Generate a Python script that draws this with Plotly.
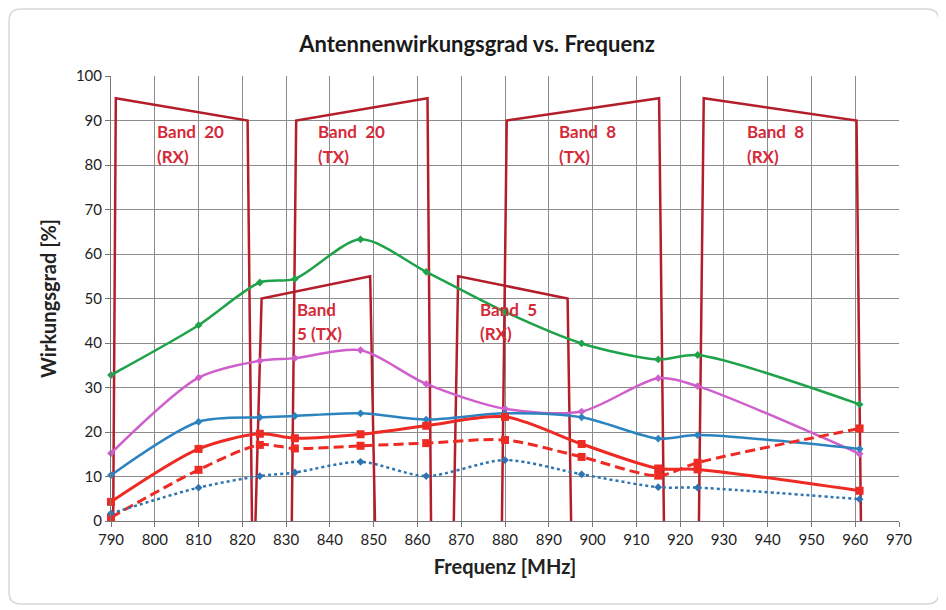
import plotly.graph_objects as go

# ---------------- data ----------------
freq = [790, 810, 824, 832, 847, 862, 880, 897.5, 915, 924, 961]
eff_green = [32.8, 44.0, 53.6, 54.4, 63.3, 56.0, 47.0, 39.9, 36.3, 37.3, 26.2]
eff_pink = [15.2, 32.2, 36.0, 36.6, 38.4, 30.8, 25.2, 24.6, 32.1, 30.3, 15.1]
eff_blue = [10.3, 22.3, 23.3, 23.6, 24.2, 22.8, 24.2, 23.3, 18.5, 19.3, 16.2]
eff_red = [4.3, 16.2, 19.6, 18.6, 19.5, 21.4, 23.4, 17.3, 11.8, 11.6, 6.8]
eff_red_dash = [0.8, 11.5, 17.1, 16.3, 16.9, 17.5, 18.2, 14.4, 10.2, 13.1, 20.8]
eff_blue_dot = [1.7, 7.5, 10.1, 10.9, 13.3, 10.1, 13.7, 10.5, 7.6, 7.5, 4.9]

band20rx_x = [790.5, 791.1, 821.2, 822.2]
band20rx_y = [0, 95, 90, 0]
band20tx_x = [831.3, 832.3, 862.3, 863.1]
band20tx_y = [0, 90, 95, 0]
band5tx_x = [823.0, 824.4, 849.2, 850.3]
band5tx_y = [0, 50, 55, 0]
band5rx_x = [868.3, 869.3, 894.3, 895.1]
band5rx_y = [0, 55, 50, 0]
band8tx_x = [879.3, 880.4, 915.2, 916.3]
band8tx_y = [0, 90, 95, 0]
band8rx_x = [924.3, 925.4, 960.3, 961.3]
band8rx_y = [0, 95, 90, 0]

band_labels = [
    ("Band&nbsp;&nbsp;20", "(RX)", 800.0, 87.6, 82.0),
    ("Band&nbsp;&nbsp;20", "(TX)", 836.8, 87.6, 82.0),
    ("Band&nbsp;&nbsp;8", "(TX)", 891.9, 87.6, 82.0),
    ("Band&nbsp;&nbsp;8", "(RX)", 934.8, 87.6, 82.0),
    ("Band", "5 (TX)", 832.0, 47.6, 42.2),
    ("Band&nbsp;&nbsp;5", "(RX)", 873.8, 47.6, 42.2),
]

FONT = "Lato, 'Open Sans', sans-serif"
BAND_COLOR = "#B41E2B"
LABEL_COLOR = "#D42A3A"

fig = go.Figure()

for bx, by in [(band20rx_x, band20rx_y), (band20tx_x, band20tx_y), (band5tx_x, band5tx_y),
               (band5rx_x, band5rx_y), (band8tx_x, band8tx_y), (band8rx_x, band8rx_y)]:
    fig.add_trace(go.Scatter(x=bx, y=by, mode="lines", line=dict(color=BAND_COLOR, width=2.5),
                             hoverinfo="skip", showlegend=False, cliponaxis=False))

series = [
    (eff_green, "#1FA24A", "solid", "diamond", 6, 2.5),
    (eff_pink, "#CF5FCB", "solid", "diamond", 6, 2.5),
    (eff_blue, "#2B83C0", "solid", "diamond", 6, 2.5),
    (eff_red, "#EE2A24", "solid", "square", 8, 3),
    (eff_red_dash, "#EE2A24", "10px,5px", "square", 8, 3),
    (eff_blue_dot, "#2E74B0", "dot", "diamond", 6, 2.5),
]
for ys, col, dash, sym, msz, lw in series:
    fig.add_trace(go.Scatter(
        x=freq, y=ys, mode="lines+markers",
        line=dict(color=col, width=lw, dash=dash, shape="spline", smoothing=0.8),
        marker=dict(color=col, symbol=sym, size=msz),
        showlegend=False, cliponaxis=False))

for l1, l2, x, y1, y2 in band_labels:
    for txt, yy in [(l1, y1), (l2, y2)]:
        fig.add_annotation(x=x, y=yy, text=txt, showarrow=False, xanchor="left", yanchor="middle",
                           font=dict(family=FONT, size=17, color=LABEL_COLOR, weight="bold"))

# card border (page pixel -> paper)
def X(px):
    return (px - 111) / 788

def Y(py):
    return (521 - py) / 445

l, r, t, b, rad = 9, 939, 9, 604, 12
path = (f"M {X(l+rad)} {Y(t)} L {X(r-rad)} {Y(t)} Q {X(r)} {Y(t)} {X(r)} {Y(t+rad)} "
        f"L {X(r)} {Y(b-rad)} Q {X(r)} {Y(b)} {X(r-rad)} {Y(b)} "
        f"L {X(l+rad)} {Y(b)} Q {X(l)} {Y(b)} {X(l)} {Y(b-rad)} "
        f"L {X(l)} {Y(t+rad)} Q {X(l)} {Y(t)} {X(l+rad)} {Y(t)} Z")
fig.add_shape(type="path", path=path, xref="paper", yref="paper",
              line=dict(color="#D8D8D8", width=1.5), layer="below")

W, H = 938, 602
fig.update_layout(
    width=W, height=H,
    margin=dict(l=103, r=47, t=68, b=89),
    paper_bgcolor="white", plot_bgcolor="white",
    title=dict(text="<b>Antennenwirkungsgrad vs. Frequenz</b>", x=0.5, xanchor="center",
               y=1 - 36 / H, yanchor="middle", font=dict(family=FONT, size=22, color="#1a1a1a")),
    font=dict(family=FONT, size=15, color="#222"),
    showlegend=False,
)
fig.update_xaxes(range=[790, 970], dtick=10, tick0=790, showgrid=True, gridcolor="#8C8C8C", gridwidth=1,
                 showline=True, linecolor="#777", linewidth=1, mirror=False,
                 ticks="outside", ticklen=5, tickcolor="#777",
                 title=dict(text="<b>Frequenz [MHz]</b>", font=dict(family=FONT, size=20, color="#222"), standoff=12),
                 zeroline=False, tickfont=dict(size=15))
fig.update_yaxes(range=[0, 100], dtick=10, showgrid=True, gridcolor="#8C8C8C", gridwidth=1,
                 showline=True, linecolor="#777", linewidth=1,
                 ticks="outside", ticklen=5, tickcolor="#777",
                 title=dict(text="<b>Wirkungsgrad [%]</b>", font=dict(family=FONT, size=20, color="#222"), standoff=13),
                 zeroline=False, tickfont=dict(size=15))

fig.write_html("out.html")
